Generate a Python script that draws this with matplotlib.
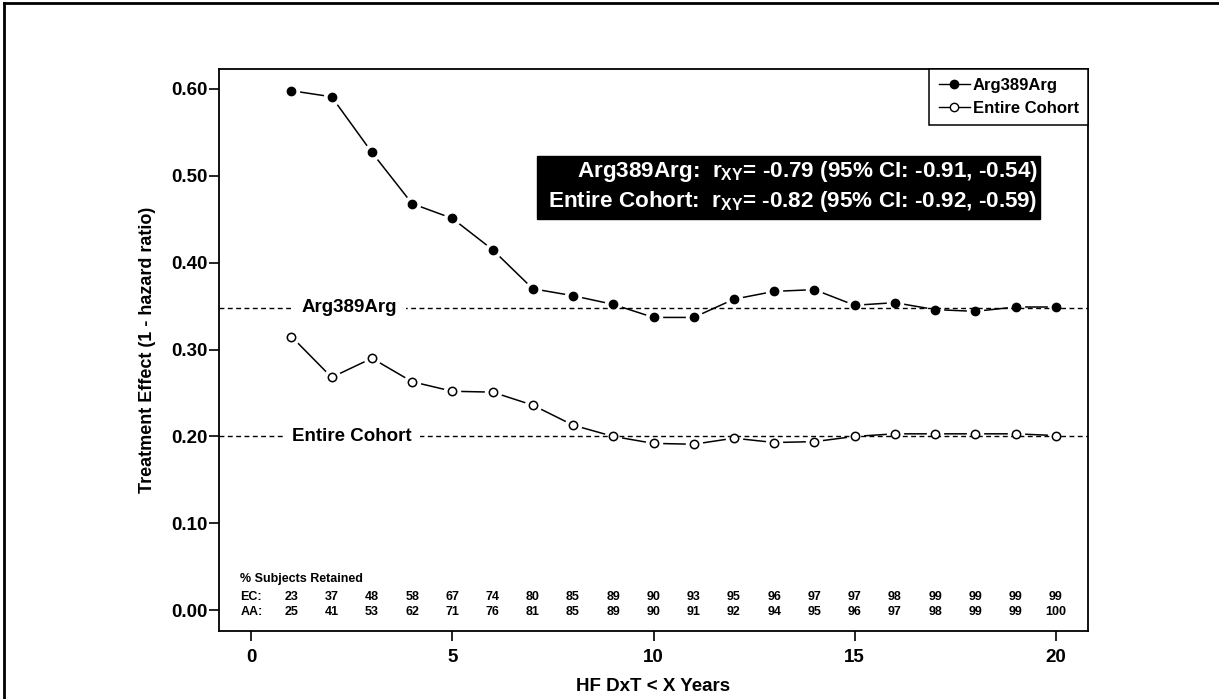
import numpy as np
import matplotlib.pyplot as plt
from matplotlib.lines import Line2D
from matplotlib.patches import Rectangle

plt.rcParams['font.family'] = ['Liberation Sans', 'DejaVu Sans']
plt.rcParams['font.weight'] = 'bold'
plt.rcParams['axes.labelweight'] = 'bold'
plt.rcParams['mathtext.fontset'] = 'custom'
plt.rcParams['mathtext.bf'] = 'Liberation Sans:bold'
plt.rcParams['mathtext.rm'] = 'Liberation Sans:bold'
plt.rcParams['mathtext.default'] = 'bf'

# data
years = list(range(1, 21))
arg389arg = [0.598, 0.591, 0.527, 0.468, 0.451, 0.415, 0.370, 0.362, 0.352, 0.337,
             0.337, 0.358, 0.367, 0.369, 0.351, 0.354, 0.346, 0.344, 0.349, 0.349]
entire_cohort = [0.315, 0.268, 0.290, 0.263, 0.252, 0.251, 0.236, 0.213, 0.200, 0.192,
                 0.191, 0.198, 0.193, 0.194, 0.200, 0.203, 0.203, 0.203, 0.203, 0.201]
ref_arg = 0.348
ref_ec = 0.200
ec_retained = [23, 37, 48, 58, 67, 74, 80, 85, 89, 90, 93, 95, 96, 97, 97, 98, 99, 99, 99, 99]
aa_retained = [25, 41, 53, 62, 71, 76, 81, 85, 89, 90, 91, 92, 94, 95, 96, 97, 98, 99, 99, 100]
corr_lines = ['Arg389Arg:  r$_{XY}$= -0.79 (95% CI: -0.91, -0.54)',
              'Entire Cohort:  r$_{XY}$= -0.82 (95% CI: -0.92, -0.59)']

fig = plt.figure(figsize=(12.19, 6.99), dpi=100)
ax = fig.add_axes([219 / 1219, 68 / 699, 869 / 1219, 562 / 699])

# connecting lines with gaps around the points (R type="b" look)
for ys in (arg389arg, entire_cohort):
    ax.plot(years, ys, color='black', lw=1.1, zorder=1)
    ax.plot(years, ys, ls='none', marker='o', ms=11.5, mfc='white', mec='white', zorder=2)

# reference lines, broken by their labels
ax.axhline(ref_arg, color='black', lw=1, ls=(0, (3.5, 2.5)), zorder=3)
ax.axhline(ref_ec, color='black', lw=1, ls=(0, (3.5, 2.5)), zorder=3)
ax.text(2.45, ref_arg, 'Arg389Arg', ha='center', va='center', fontsize=13.5, zorder=4,
        bbox=dict(fc='white', ec='none', pad=6))
ax.text(2.5, ref_ec, 'Entire Cohort', ha='center', va='center', fontsize=13.5, zorder=4,
        bbox=dict(fc='white', ec='none', pad=6))

ax.plot(years, arg389arg, ls='none', marker='o', ms=6, mfc='black', mec='black', zorder=5)
ax.plot(years, entire_cohort, ls='none', marker='o', ms=6, mfc='white', mec='black',
        mew=1.1, zorder=5)

# retained table
ax.text(-0.27, 0.036, '% Subjects Retained', fontsize=9, ha='left', va='center')
ax.text(-0.27, 0.0155, 'EC:', fontsize=9, ha='left', va='center')
ax.text(-0.27, -0.002, 'AA:', fontsize=9, ha='left', va='center')
for x, ec, aa in zip(years, ec_retained, aa_retained):
    ax.text(x, 0.0155, str(ec), fontsize=9, ha='center', va='center')
    ax.text(x, -0.002, str(aa), fontsize=9, ha='center', va='center')

# correlation box
ax.add_patch(Rectangle((7.1, 0.45), 12.5, 0.0725, fc='black', ec='black', zorder=6))
for txt, y in zip(corr_lines, [0.5055, 0.4705]):
    ax.text(19.55, y, txt, ha='right', va='center', color='white', fontsize=16.2, zorder=7)

ax.set_xlim(-0.8, 20.8)
ax.set_ylim(-0.024, 0.623)
ax.set_xticks([0, 5, 10, 15, 20])
ax.set_yticks([0.0, 0.1, 0.2, 0.3, 0.4, 0.5, 0.6])
ax.set_yticklabels(['0.00', '0.10', '0.20', '0.30', '0.40', '0.50', '0.60'])
ax.tick_params(axis='both', labelsize=13.5, width=1.2, length=7, color='black')
ax.tick_params(axis='y', pad=1)
ax.tick_params(axis='x', pad=6)
for s in ax.spines.values():
    s.set_linewidth(1.3)
ax.set_xlabel('HF DxT < X Years', fontsize=13.5)
ax.set_ylabel('Treatment Effect (1 - hazard ratio)', fontsize=13)
ax.yaxis.set_label_coords(-0.073, 0.5)
ax.xaxis.set_label_coords(0.5, -0.083)

handles = [Line2D([], [], color='black', lw=1, marker='o', ms=6, mfc='black', mec='black'),
           Line2D([], [], color='black', lw=1, marker='o', ms=6, mfc='white', mec='black')]
leg = ax.legend(handles, ['Arg389Arg', 'Entire Cohort'], loc='upper right', borderaxespad=0,
                fontsize=12, fancybox=False, framealpha=1, edgecolor='black',
                handlelength=1.9, handletextpad=0.15, borderpad=0.55, labelspacing=0.45)
leg.get_frame().set_linewidth(1.1)
leg.set_zorder(8)

# page border (top and left)
fig.add_artist(Line2D([0.003, 0.003], [0, 0.995], transform=fig.transFigure, color='black', lw=2))
fig.add_artist(Line2D([0.003, 1], [0.995, 0.995], transform=fig.transFigure, color='black', lw=2))

fig.savefig('out.png', dpi=100)
